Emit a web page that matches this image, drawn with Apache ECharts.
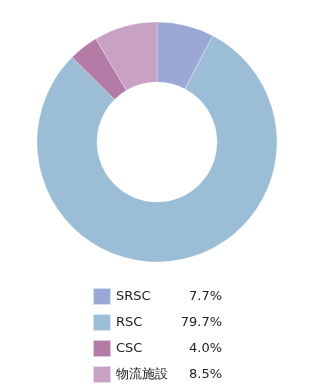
<!DOCTYPE html>
<html>
<head>
<meta charset="utf-8">
<script src="https://cdn.jsdelivr.net/npm/echarts@6/dist/echarts.min.js"></script>
<style>
  html, body { margin: 0; padding: 0; background: #fff; }
  #chart { width: 327px; height: 391px; }
</style>
</head>
<body>
<div id="chart"></div>
<script>
// Share of facilities by type (percent)
const categories = ['SRSC', 'RSC', 'CSC', '物流施設'];
const shares = [7.7, 79.7, 4.0, 8.5];
const colors = ['#9ba8d5', '#9cbdd6', '#b47ba6', '#c8a1c5'];

const chart = echarts.init(document.getElementById('chart'), null, { renderer: 'canvas' });

const shareByName = {};
categories.forEach((c, i) => { shareByName[c] = shares[i]; });

chart.setOption({
  animation: false,
  color: colors,
  legend: {
    orient: 'vertical',
    left: 92,
    top: 287,
    height: 110,
    padding: 0,
    itemWidth: 18,
    itemHeight: 17,
    itemGap: 7,
    icon: 'rect',
    selectedMode: false,
    data: categories,
    formatter: name => '{n|' + name + '}{v|' + shareByName[name].toFixed(1) + '%}',
    textStyle: {
      fontFamily: 'DejaVu Sans',
      fontSize: 13,
      color: '#222',
      lineHeight: 17,
      rich: {
        n: { width: 57, lineHeight: 17, fontFamily: 'DejaVu Sans', fontSize: 13, color: '#222' },
        v: { width: 49, lineHeight: 17, align: 'right', fontFamily: 'DejaVu Sans', fontSize: 13, color: '#222' }
      }
    }
  },
  series: [{
    type: 'pie',
    center: [157, 142],
    radius: [60, 120],
    startAngle: 90,
    clockwise: true,
    label: { show: false },
    labelLine: { show: false },
    silent: true,
    itemStyle: { borderColor: 'rgba(255,255,255,0.6)', borderWidth: 0.5 },
    data: categories.map((c, i) => ({ name: c, value: shares[i] }))
  }]
});
</script>
</body>
</html>
